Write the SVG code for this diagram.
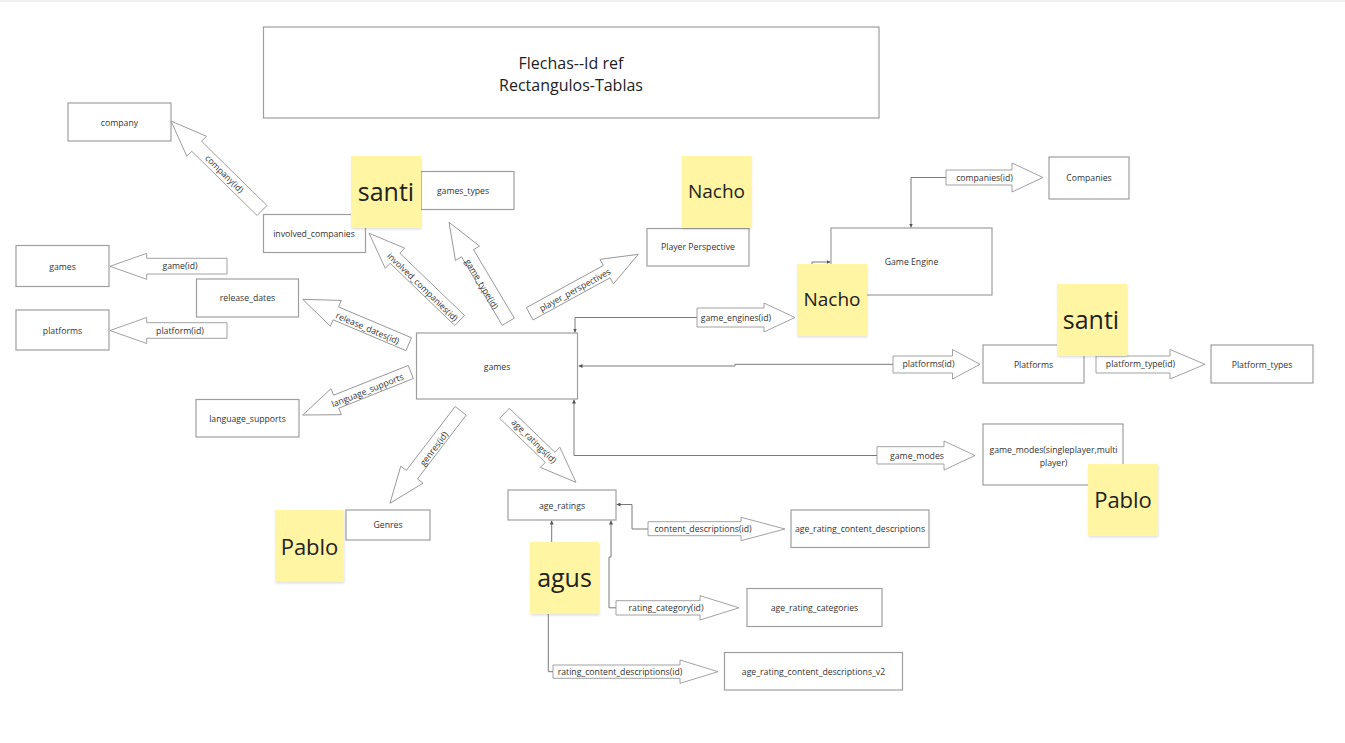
<svg xmlns="http://www.w3.org/2000/svg" width="1345" height="743" viewBox="0 0 1345 743">
<defs>
<style>
.bg{fill:#ffffff}
.box{fill:#ffffff;stroke:#9e9e9e;stroke-width:1.2}
.t{font-family:"Open Sans","Noto Sans","Liberation Sans",sans-serif;font-size:8.7px;fill:#333333;text-anchor:middle;dominant-baseline:central}
.title{font-family:"Open Sans","Noto Sans","Liberation Sans",sans-serif;font-size:16px;fill:#222222;text-anchor:middle;dominant-baseline:central}
.ba{fill:#ffffff;stroke:#8a8a8a;stroke-width:0.8;stroke-linejoin:miter}
.ln{fill:none;stroke:#7a7a7a;stroke-width:1}
.sticky{fill:#fff5a3}
.st{font-family:"Open Sans","Noto Sans","Liberation Sans",sans-serif;fill:#222222;text-anchor:middle;dominant-baseline:central}
</style>
<marker id="ah" viewBox="0 0 6 6" refX="6" refY="3" markerWidth="4" markerHeight="4" orient="auto" markerUnits="userSpaceOnUse">
<path d="M0,0 L6,3 L0,6 z" fill="#555555"/>
</marker>
<filter id="sh" x="-20%" y="-20%" width="140%" height="140%">
<feDropShadow dx="0.5" dy="1.5" stdDeviation="1.2" flood-color="#000000" flood-opacity="0.12"/>
</filter>
</defs>
<rect class="bg" x="0" y="0" width="1345" height="743"/>
<rect x="0" y="0" width="1345" height="2" fill="#efefef"/>

<g id="title">
<rect class="box" x="263.5" y="27" width="615.5" height="91"/>
<text class="title" x="571" y="63">Flechas--Id ref</text>
<text class="title" x="571" y="85">Rectangulos-Tablas</text>
</g>

<g id="connectors">
<path class="ln" d="M946,177.5 H911 V227.5" marker-end="url(#ah)"/>
<path class="ln" d="M812,266 V262 H830.5" marker-end="url(#ah)"/>
<path class="ln" d="M697,317.5 H575 V332.5" marker-end="url(#ah)"/>
<path class="ln" d="M893,364.3 H735 V366 H578.5" marker-end="url(#ah)"/>
<path class="ln" d="M877,455.5 H574 V399.5" marker-end="url(#ah)"/>
<path class="ln" d="M648,529 H632 V504.5 H616.5" marker-end="url(#ah)"/>
<path class="ln" d="M616,607.8 H609 V557 H611 V520.5" marker-end="url(#ah)"/>
<path class="ln" d="M553,671.7 H548.3 V580 H551.7 V520.5" marker-end="url(#ah)"/>

<polygon class="ba" points="0,-7 91.6,-7 91.6,-14 127.6,0 91.6,14 91.6,7 0,7" transform="translate(262,210.5) rotate(224.5)"/>
<text class="t" transform="translate(224.3,174) rotate(44.5)">company(id)</text>

<polygon class="ba" points="0,-7 89.8,-7 89.8,-14 125.8,0 89.8,14 89.8,7 0,7" transform="translate(459.7,320.5) rotate(223.9)"/>
<text class="t" transform="translate(422.5,287) rotate(43.9)">involved_companies(id)</text>

<polygon class="ba" points="0,-7 79.7,-7 79.7,-14 115.7,0 79.7,14 79.7,7 0,7" transform="translate(508.3,321.7) rotate(239.2)"/>
<text class="t" transform="translate(481.7,284.2) rotate(59.2)">game_type(id)</text>

<polygon class="ba" points="0,-7 79.1,-7 79.1,-14 115.1,0 79.1,14 79.1,7 0,7" transform="translate(408.7,344.2) rotate(202.95)"/>
<text class="t" transform="translate(367.5,328.3) rotate(22.95)">release_dates(id)</text>

<polygon class="ba" points="0,-7 80.3,-7 80.3,-14 116.3,0 80.3,14 80.3,7 0,7" transform="translate(410.8,372) rotate(158.3)"/>
<text class="t" transform="translate(367.5,390.5) rotate(-21.7)">language_supports</text>

<polygon class="ba" points="0,-7 80.4,-7 80.4,-14 116.4,0 80.4,14 80.4,7 0,7" transform="translate(460.7,410.8) rotate(127.4)"/>
<text class="t" transform="translate(434,448.7) rotate(-52.6)">genres(id)</text>

<polygon class="ba" points="0,-7 63.4,-7 63.4,-14 99.4,0 63.4,14 63.4,7 0,7" transform="translate(504.5,413.3) rotate(44)"/>
<text class="t" transform="translate(534,441.3) rotate(44)">age_ratings(id)</text>

<polygon class="ba" points="0,-7 87.8,-7 87.8,-14 123.8,0 87.8,14 87.8,7 0,7" transform="translate(529.7,313.8) rotate(-28.7)"/>
<text class="t" transform="translate(575,290) rotate(-28.7)">player_perspectives</text>

<polygon class="ba" points="110,266.3 146.7,253.3 146.7,258.3 227,258.3 227,274 146.7,274 146.7,279.3"/>
<text class="t" x="180" y="266">game(id)</text>

<polygon class="ba" points="110,330.5 146.7,317.5 146.7,322.7 227,322.7 227,338.3 146.7,338.3 146.7,343.5"/>
<text class="t" x="180" y="330.5">platform(id)</text>

<polygon class="ba" points="697,308 764,308 764,303 795,317.5 764,332 764,327 697,327"/>
<text class="t" x="736" y="317.5">game_engines(id)</text>

<polygon class="ba" points="946,170 1012,170 1012,163 1043,177.5 1012,192 1012,185 946,185"/>
<text class="t" x="984.5" y="177.5">companies(id)</text>

<polygon class="ba" points="893,356 952.5,356 952.5,349.5 980,364.3 952.5,379 952.5,373 893,373"/>
<text class="t" x="928.5" y="364">platforms(id)</text>

<polygon class="ba" points="1096,356 1170,356 1170,349.5 1205,364.3 1170,379 1170,373 1096,373"/>
<text class="t" x="1140.5" y="364">platform_type(id)</text>

<polygon class="ba" points="877,446.7 944,446.7 944,441 975,455.5 944,470 944,464 877,464"/>
<text class="t" x="917" y="455.5">game_modes</text>

<polygon class="ba" points="648,521.7 741,521.7 741,517.3 785,529 741,540.7 741,535.7 648,535.7"/>
<text class="t" x="703" y="529">content_descriptions(id)</text>

<polygon class="ba" points="616,600.7 700,600.7 700,595.7 739,607.8 700,620 700,615 616,615"/>
<text class="t" x="666" y="607.8">rating_category(id)</text>

<polygon class="ba" points="553,665 680,665 680,660 718,671.7 680,683.3 680,678.3 553,678.3"/>
<text class="t" x="620" y="671.7">rating_content_descriptions(id)</text>
</g>

<g id="company"><rect class="box" x="68" y="103" width="103" height="38"/><text class="t" x="119.5" y="122.5">company</text></g>
<g id="involved_companies"><rect class="box" x="263.5" y="214.5" width="102" height="38"/><text class="t" x="314" y="234">involved_companies</text></g>
<g id="games_types"><rect class="box" x="421" y="171.5" width="93" height="38"/><text class="t" x="463" y="190.5">games_types</text></g>
<g id="games_left"><rect class="box" x="16" y="245.5" width="93" height="41"/><text class="t" x="62.5" y="266.5">games</text></g>
<g id="platforms_left"><rect class="box" x="16" y="310" width="93" height="40"/><text class="t" x="62.5" y="330.5">platforms</text></g>
<g id="release_dates"><rect class="box" x="196.5" y="279" width="102" height="38"/><text class="t" x="247.5" y="298">release_dates</text></g>
<g id="language_supports"><rect class="box" x="196" y="399.5" width="103" height="37.5"/><text class="t" x="247.5" y="418.5">language_supports</text></g>
<g id="games"><rect class="box" x="416.5" y="333" width="161" height="66"/><text class="t" x="497" y="366.5">games</text></g>
<g id="player_perspective"><rect class="box" x="647" y="228.5" width="102" height="37.5"/><text class="t" x="698" y="247">Player Perspective</text></g>
<g id="game_engine"><rect class="box" x="831" y="228" width="161" height="67"/><text class="t" x="911.5" y="262">Game Engine</text></g>
<g id="companies"><rect class="box" x="1049" y="157" width="80" height="42"/><text class="t" x="1089" y="178">Companies</text></g>
<g id="platforms"><rect class="box" x="983" y="345" width="101" height="38"/><text class="t" x="1033.5" y="364.5">Platforms</text></g>
<g id="platform_types"><rect class="box" x="1211" y="345" width="102" height="38"/><text class="t" x="1262" y="364.5">Platform_types</text></g>
<g id="game_modes"><rect class="box" x="983" y="424" width="140" height="61"/><text class="t" x="1053.5" y="450">game_modes(singleplayer,multi</text><text class="t" x="1053.5" y="462.5">player)</text></g>
<g id="genres"><rect class="box" x="346" y="510" width="84" height="30"/><text class="t" x="388" y="524.5">Genres</text></g>
<g id="age_ratings"><rect class="box" x="508" y="490" width="108" height="30"/><text class="t" x="562" y="505.5">age_ratings</text></g>
<g id="age_rating_content_descriptions"><rect class="box" x="791" y="510" width="138" height="37.5"/><text class="t" x="860" y="528.5">age_rating_content_descriptions</text></g>
<g id="age_rating_categories"><rect class="box" x="747" y="588.5" width="135" height="38"/><text class="t" x="814.5" y="607.5">age_rating_categories</text></g>
<g id="age_rating_content_descriptions_v2"><rect class="box" x="724.5" y="652.5" width="178" height="37.5"/><text class="t" x="813.5" y="671.5">age_rating_content_descriptions_v2</text></g>

<g id="sticky_santi_1"><rect class="sticky" filter="url(#sh)" x="351" y="156" width="70" height="72"/><text class="st" x="386" y="191" font-size="25">santi</text></g>
<g id="sticky_nacho_1"><rect class="sticky" filter="url(#sh)" x="682" y="156" width="69" height="72"/><text class="st" x="716.5" y="191" font-size="19">Nacho</text></g>
<g id="sticky_nacho_2"><rect class="sticky" filter="url(#sh)" x="797" y="264" width="70" height="72"/><text class="st" x="832" y="299" font-size="19">Nacho</text></g>
<g id="sticky_santi_2"><rect class="sticky" filter="url(#sh)" x="1057" y="284" width="70" height="72"/><text class="st" x="1091" y="319" font-size="25">santi</text></g>
<g id="sticky_pablo_1"><rect class="sticky" filter="url(#sh)" x="275" y="510" width="69" height="72"/><text class="st" x="309.5" y="546" font-size="22">Pablo</text></g>
<g id="sticky_pablo_2"><rect class="sticky" filter="url(#sh)" x="1088" y="464" width="70" height="72"/><text class="st" x="1123" y="499" font-size="22">Pablo</text></g>
<g id="sticky_agus"><rect class="sticky" filter="url(#sh)" x="530" y="542" width="69" height="72"/><text class="st" x="564.5" y="577" font-size="25">agus</text></g>
</svg>
